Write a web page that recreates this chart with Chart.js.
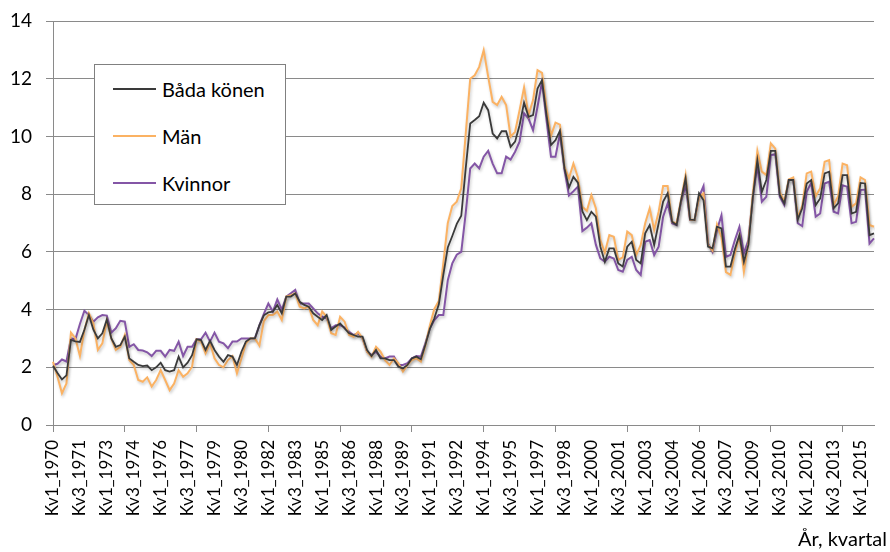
<!DOCTYPE html>
<html>
<head>
<meta charset="utf-8">
<script src="https://cdn.jsdelivr.net/npm/chart.js@4"></script>
<style>
  body { margin: 0; background: #fff; }
  #wrap { position: relative; width: 890px; height: 552px; }
  #legend {
    position: absolute; left: 94px; top: 64px; width: 192px; height: 141px;
    box-sizing: border-box; border: 1.5px solid #808080; background: #fff;
    font-family: Lato, sans-serif; font-size: 20px; color: #000;
  }
  #legend .row { display: flex; align-items: center; height: 47px; }
  #legend .swatch { width: 43px; margin-left: 18px; margin-right: 6px; }
</style>
</head>
<body>
<div id="wrap">
  <canvas id="chart" width="890" height="552"></canvas>
  <div id="legend"></div>
</div>
<script>
// quarters 1970 Kv1 .. 2015 Kv4
const startYear = 1970;
const endYear = 2015;
const quarters = [];
for (let y = startYear; y <= endYear; y++) {
  for (let q = 1; q <= 4; q++) quarters.push("Kv" + q + "_" + y);
}

const seriesNames = ["Båda könen", "Män", "Kvinnor"];
const yTicks = [0, 2, 4, 6, 8, 10, 12, 14];

const bada = [
  2.05, 1.8, 1.58, 1.72, 2.95, 2.9, 2.88, 3.3, 3.81, 3.3, 3.0, 3.18, 3.66, 3.0, 2.71, 2.77,
  3.06, 2.31, 2.19, 2.08, 2.04, 2.06, 1.9, 2.0, 2.16, 1.9, 1.85, 1.9, 2.37, 2.0, 2.16, 2.42,
  2.97, 2.94, 2.6, 2.92, 2.6, 2.37, 2.19, 2.42, 2.37, 2.08, 2.54, 2.89, 3.0, 3.0, 3.45, 3.8,
  3.9, 3.93, 4.16, 3.87, 4.45, 4.45, 4.56, 4.27, 4.16, 4.1, 3.87, 3.75, 3.64, 3.81, 3.29, 3.41,
  3.52, 3.35, 3.18, 3.12, 3.06, 3.06, 2.6, 2.39, 2.6, 2.31, 2.31, 2.25, 2.25, 2.02, 1.96, 2.08,
  2.31, 2.37, 2.28, 2.78, 3.33, 3.7, 4.18, 5.2, 6.15, 6.55, 6.97, 7.25, 8.9, 10.45, 10.57, 10.7,
  11.17, 10.91, 10.1, 9.93, 10.18, 10.18, 9.64, 9.82, 10.39, 11.17, 10.68, 10.74, 11.66, 11.95, 10.75, 9.7,
  9.87, 10.2, 8.9, 8.23, 8.6, 8.4, 7.4, 7.1, 7.39, 7.22, 6.18, 5.66, 6.12, 6.12, 5.6, 5.49,
  6.18, 6.35, 5.72, 5.6, 6.64, 6.93, 6.24, 6.99, 7.74, 8.03, 7.04, 6.93, 7.79, 8.55, 7.12, 7.1,
  8.03, 7.79, 6.18, 6.12, 6.87, 6.81, 5.49, 5.49, 6.1, 6.58, 5.66, 6.24, 7.91, 9.18, 8.08, 8.49,
  9.5, 9.5, 7.97, 7.68, 8.49, 8.49, 7.12, 7.51, 8.37, 8.49, 7.62, 7.85, 8.72, 8.78, 7.51, 7.68,
  8.66, 8.66, 7.33, 7.39, 8.39, 8.37, 6.58, 6.64
];

const man = [
  2.19, 1.67, 1.1, 1.44, 3.2, 3.0, 2.39, 3.29, 3.87, 3.52, 2.6, 2.83, 3.61, 3.0, 2.6, 2.71,
  3.12, 2.25, 2.08, 1.56, 1.5, 1.65, 1.33, 1.56, 1.9, 1.56, 1.21, 1.44, 1.9, 1.67, 1.79, 2.02,
  2.97, 2.89, 2.48, 2.83, 2.31, 2.08, 2.0, 2.25, 2.39, 1.79, 2.31, 2.83, 3.0, 3.0, 2.75, 3.6,
  3.81, 3.81, 3.93, 3.64, 4.45, 4.5, 4.56, 4.1, 4.04, 4.1, 3.64, 3.46, 3.93, 3.75, 3.18, 3.12,
  3.75, 3.58, 3.12, 3.06, 3.23, 3.0, 2.54, 2.37, 2.71, 2.54, 2.25, 2.08, 2.31, 2.14, 1.85, 2.08,
  2.25, 2.31, 2.2, 2.75, 3.45, 4.02, 4.3, 5.6, 7.0, 7.59, 7.74, 8.2, 10.1, 12.0, 12.12, 12.41,
  12.99, 12.07, 11.2, 11.09, 11.37, 11.09, 9.99, 10.16, 10.91, 11.7, 10.74, 11.26, 12.3, 12.2, 11.0, 10.02,
  10.48, 10.41, 8.95, 8.55, 9.06, 8.58, 7.56, 7.42, 7.97, 7.51, 6.41, 5.97, 6.58, 6.52, 5.72, 5.81,
  6.7, 6.58, 5.89, 6.24, 6.99, 7.51, 6.76, 7.39, 8.28, 8.28, 7.04, 6.99, 7.82, 8.66, 7.12, 7.1,
  7.89, 8.03, 6.24, 6.04, 6.95, 6.5, 5.3, 5.2, 5.95, 6.55, 5.31, 6.29, 8.03, 9.5, 8.78, 8.66,
  9.76, 9.58, 8.08, 7.74, 8.51, 8.58, 7.19, 7.59, 8.72, 8.78, 7.93, 8.2, 9.12, 9.18, 7.62, 7.93,
  9.06, 9.0, 7.56, 7.68, 8.58, 8.49, 6.93, 6.87
];

const kvinnor = [
  2.08, 2.12, 2.27, 2.2, 3.0, 2.97, 3.5, 3.96, 3.81, 3.58, 3.73, 3.81, 3.79, 3.2, 3.35, 3.61,
  3.58, 2.71, 2.8, 2.6, 2.58, 2.52, 2.39, 2.57, 2.57, 2.37, 2.6, 2.57, 2.89, 2.39, 2.71, 2.71,
  2.97, 2.97, 3.2, 2.89, 3.2, 2.89, 2.83, 2.66, 2.89, 2.89, 3.0, 3.0, 3.0, 3.0, 3.45, 3.85,
  4.21, 3.93, 4.35, 4.0, 4.45, 4.56, 4.68, 4.21, 4.21, 4.21, 4.04, 3.87, 3.75, 3.7, 3.35, 3.46,
  3.46, 3.38, 3.23, 3.12, 3.18, 3.0, 2.54, 2.42, 2.54, 2.37, 2.31, 2.37, 2.37, 2.08, 2.08, 2.14,
  2.31, 2.39, 2.37, 2.83, 3.35, 3.64, 3.81, 3.81, 5.02, 5.6, 5.9, 6.0, 7.35, 8.89, 9.06, 8.89,
  9.3, 9.5, 9.06, 8.72, 8.72, 9.3, 9.2, 9.47, 9.82, 10.8, 10.62, 10.22, 11.03, 11.89, 10.57, 9.3,
  9.3, 10.1, 8.85, 7.95, 8.1, 8.26, 6.72, 6.84, 6.99, 6.25, 5.77, 5.66, 5.83, 5.77, 5.37, 5.31,
  5.72, 5.83, 5.37, 5.2, 6.35, 6.41, 5.89, 6.18, 7.22, 7.68, 6.99, 6.93, 7.74, 8.31, 7.1, 7.1,
  7.91, 8.28, 6.29, 6.0, 6.76, 7.27, 5.83, 5.89, 6.41, 6.87, 5.95, 6.41, 7.91, 9.0, 7.74, 7.91,
  9.35, 9.39, 7.91, 7.62, 8.49, 8.51, 6.99, 6.89, 8.08, 8.39, 7.22, 7.33, 8.37, 8.43, 7.39, 7.33,
  8.31, 8.26, 6.99, 7.04, 8.14, 8.16, 6.29, 6.47
];

const colors = ["#3a3a3a", "#fbb263", "#8456a6"];
const gridColor = "#8a8a8a";

Chart.defaults.font.family = "Lato, sans-serif";
Chart.defaults.color = "#000";

// soft shadow under the lines, like the office chart
const lineShadow = {
  id: "lineShadow",
  beforeDatasetsDraw(chart) {
    const c = chart.ctx;
    c.save();
    c.shadowColor = "rgba(0,0,0,0.22)";
    c.shadowBlur = 3;
    c.shadowOffsetX = 1;
    c.shadowOffsetY = 2;
  },
  afterDatasetsDraw(chart) {
    chart.ctx.restore();
  },
};

// legend box drawn as html inside the plot
const htmlLegend = {
  id: "htmlLegend",
  afterUpdate(chart) {
    const box = document.getElementById("legend");
    box.innerHTML = "";
    chart.data.datasets.forEach((ds) => {
      const row = document.createElement("div");
      row.className = "row";
      const sw = document.createElement("span");
      sw.className = "swatch";
      sw.style.borderTop = "2px solid " + ds.borderColor;
      const txt = document.createElement("span");
      txt.textContent = ds.label;
      row.appendChild(sw);
      row.appendChild(txt);
      box.appendChild(row);
    });
  },
};

new Chart(document.getElementById("chart"), {
  type: "line",
  data: {
    labels: quarters,
    datasets: [
      { label: seriesNames[0], data: bada, borderColor: colors[0], borderWidth: 1.8 },
      { label: seriesNames[1], data: man, borderColor: colors[1], borderWidth: 2 },
      { label: seriesNames[2], data: kvinnor, borderColor: colors[2], borderWidth: 2 },
    ],
  },
  options: {
    responsive: false,
    animation: false,
    layout: { autoPadding: false, padding: { left: 0, right: 3, top: 21, bottom: 0 } },
    elements: {
      point: { radius: 0 },
      line: { tension: 0 },
    },
    scales: {
      x: {
        type: "category",
        offset: false,
        afterFit(scale) {
          scale.height = 93;
          scale.paddingRight = 16;
          scale.paddingTop = 0;
          scale.paddingBottom = 0;
        },
        border: { color: gridColor, width: 1 },
        grid: {
          drawOnChartArea: false,
          tickLength: 7,
          color: (ctx) => (ctx.index % 16 === 0 ? gridColor : "rgba(0,0,0,0)"),
        },
        ticks: {
          autoSkip: false,
          minRotation: 90,
          maxRotation: 90,
          padding: 8,
          font: { size: 17 },
          color: "#000",
          callback: (val, i) => (i % 6 === 0 ? quarters[i] : ""),
        },
      },
      y: {
        min: yTicks[0],
        max: yTicks[yTicks.length - 1],
        afterFit(scale) {
          scale.width = 53;
          scale.paddingTop = 0;
          scale.paddingBottom = 0;
        },
        afterBuildTicks(scale) {
          scale.ticks = yTicks.map((v) => ({ value: v }));
        },
        border: { color: gridColor, width: 1 },
        grid: { color: gridColor, lineWidth: 1, tickLength: 7 },
        ticks: { padding: 14, font: { size: 19 }, color: "#000" },
      },
    },
    plugins: {
      legend: { display: false },
      tooltip: { enabled: false },
      title: {
        display: true,
        text: "År, kvartal",
        position: "bottom",
        align: "end",
        color: "#000",
        font: { size: 20, weight: "normal" },
        padding: { top: 10, bottom: 0 },
      },
    },
  },
  plugins: [lineShadow, htmlLegend],
});
</script>
</body>
</html>
